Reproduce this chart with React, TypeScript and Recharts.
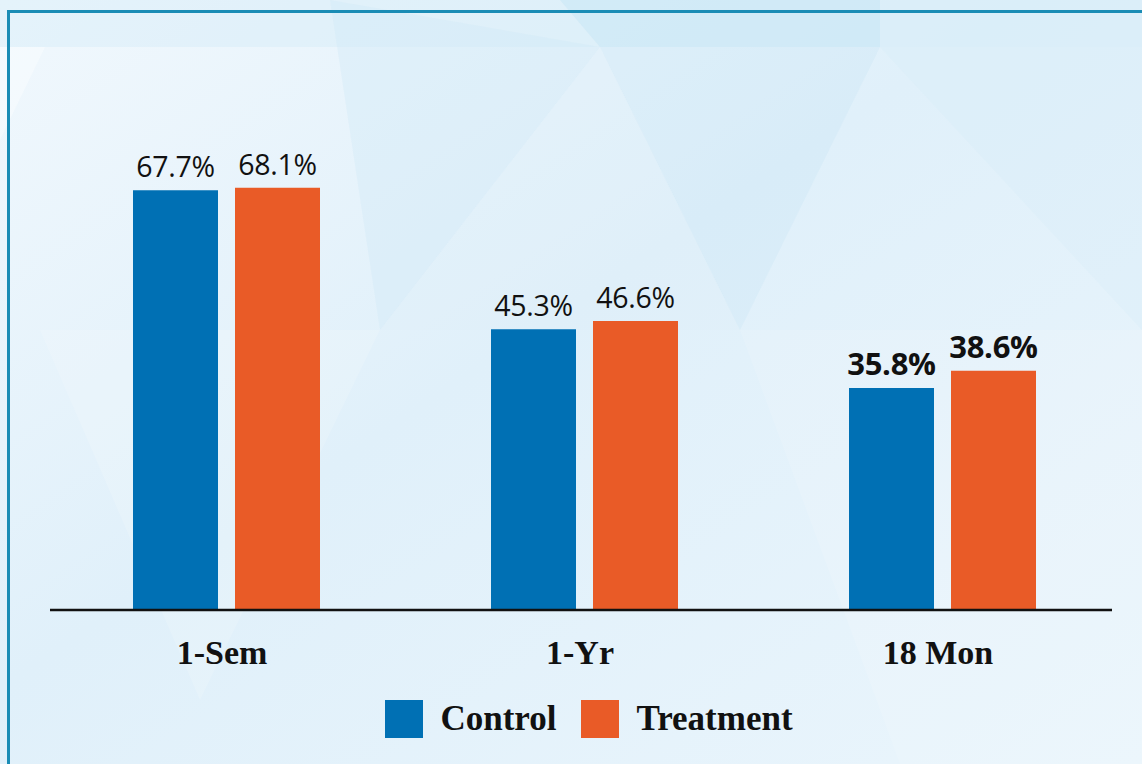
import React from 'react';
import { BarChart, Bar, XAxis, YAxis, Legend, LabelList } from 'recharts';

const categories = ['1-Sem', '1-Yr', '18 Mon'];
const controlValues = [67.7, 45.3, 35.8];
const treatmentValues = [68.1, 46.6, 38.6];
const boldLabelIndex = [2];

const BLUE = '#0070b4';
const ORANGE = '#e95b27';

const data = categories.map((name, i) => ({
  name,
  control: controlValues[i],
  treatment: treatmentValues[i],
}));

const ValueLabel = (props: any) => {
  const { x, y, width, value, index } = props;
  const bold = boldLabelIndex.includes(index);
  return (
    <text
      x={x + width / 2}
      y={y - 13}
      textAnchor="middle"
      fontFamily="'Open Sans', sans-serif"
      fontSize={bold ? 31 : 28.5}
      fontWeight={bold ? 700 : 400}
      letterSpacing={-0.3}
      fill="#111"
    >
      {value.toFixed(1)}%
    </text>
  );
};

const CategoryTick = (props: any) => {
  const { x, y, payload } = props;
  return (
    <text
      x={x - 4}
      y={y + 46}
      textAnchor="middle"
      fontFamily="'Liberation Serif', 'Times New Roman', serif"
      fontWeight={700}
      fontSize={34}
      fill="#111"
    >
      {payload.value}
    </text>
  );
};

const LegendContent = () => (
  <div style={{ display: 'flex', justifyContent: 'center', alignItems: 'center', gap: 25, paddingLeft: 36 }}>
    {[
      { label: 'Control', color: BLUE },
      { label: 'Treatment', color: ORANGE },
    ].map((item) => (
      <div key={item.label} style={{ display: 'flex', alignItems: 'center' }}>
        <span style={{ width: 38, height: 38, background: item.color, display: 'inline-block', marginRight: 17 }} />
        <span
          style={{
            fontFamily: "'Liberation Serif', 'Times New Roman', serif",
            fontWeight: 700,
            fontSize: 35,
            color: '#111',
          }}
        >
          {item.label}
        </span>
      </div>
    ))}
  </div>
);

// faint triangle pattern in the background
const Backdrop = () => (
  <svg width={1142} height={764} style={{ position: 'absolute', left: 0, top: 0 }}>
    <defs>
      <linearGradient id="bg" x1="0" y1="0" x2="1" y2="1">
        <stop offset="0%" stopColor="#f1f8fd" />
        <stop offset="45%" stopColor="#e0f0fa" />
        <stop offset="100%" stopColor="#eaf5fc" />
      </linearGradient>
    </defs>
    <rect width={1142} height={764} fill="url(#bg)" />
    <rect x={0} y={0} width={1142} height={47} fill="#d2eaf7" opacity={0.4} />
    <polygon points="330,0 600,47 380,330" fill="#cfe8f6" opacity={0.35} />
    <polygon points="560,0 880,0 880,47 600,47" fill="#c6e6f6" opacity={0.5} />
    <polygon points="600,47 880,47 740,330" fill="#c8e6f5" opacity={0.3} />
    <polygon points="880,47 1142,47 1142,330" fill="#d2eaf7" opacity={0.25} />
    <polygon points="0,47 45,47 0,140" fill="#ffffff" opacity={0.35} />
    <polygon points="600,47 380,330 740,330" fill="#ddeffa" opacity={0.3} />
    <polygon points="40,330 380,330 200,700" fill="#ffffff" opacity={0.15} />
    <polygon points="740,330 1142,330 1142,764 900,764" fill="#ffffff" opacity={0.12} />
  </svg>
);

const App: React.FC = () => {
  return (
    <div
      style={{
        position: 'fixed',
        left: 0,
        top: 0,
        width: 1142,
        height: 764,
        overflow: 'hidden',
      }}
    >
      <Backdrop />
      <div
        style={{
          position: 'absolute',
          left: 7,
          top: 10,
          width: 1300,
          height: 900,
          borderLeft: '3px solid #1a8cb5',
          borderTop: '3px solid #1a8cb5',
        }}
      />
      <div style={{ position: 'absolute', left: 0, top: 0 }}>
        <BarChart
          width={1142}
          height={764}
          data={data}
          margin={{ top: 114, right: 30, left: 50, bottom: 0 }}
          barSize={85}
          barGap={17}
        >
          <XAxis
            dataKey="name"
            height={154}
            tickLine={false}
            padding={{ left: -3, right: -9 }}
            axisLine={{ stroke: '#111', strokeWidth: 2.5 }}
            tick={<CategoryTick />}
          />
          <YAxis hide domain={[0, 80]} />
          <Legend
            layout="horizontal"
            verticalAlign="middle"
            content={<LegendContent />}
            wrapperStyle={{ top: 699, left: 0, width: 1142 }}
          />
          <Bar dataKey="control" fill={BLUE} isAnimationActive={false}>
            <LabelList dataKey="control" content={<ValueLabel />} />
          </Bar>
          <Bar dataKey="treatment" fill={ORANGE} isAnimationActive={false}>
            <LabelList dataKey="treatment" content={<ValueLabel />} />
          </Bar>
        </BarChart>
      </div>
    </div>
  );
};

export default App;
